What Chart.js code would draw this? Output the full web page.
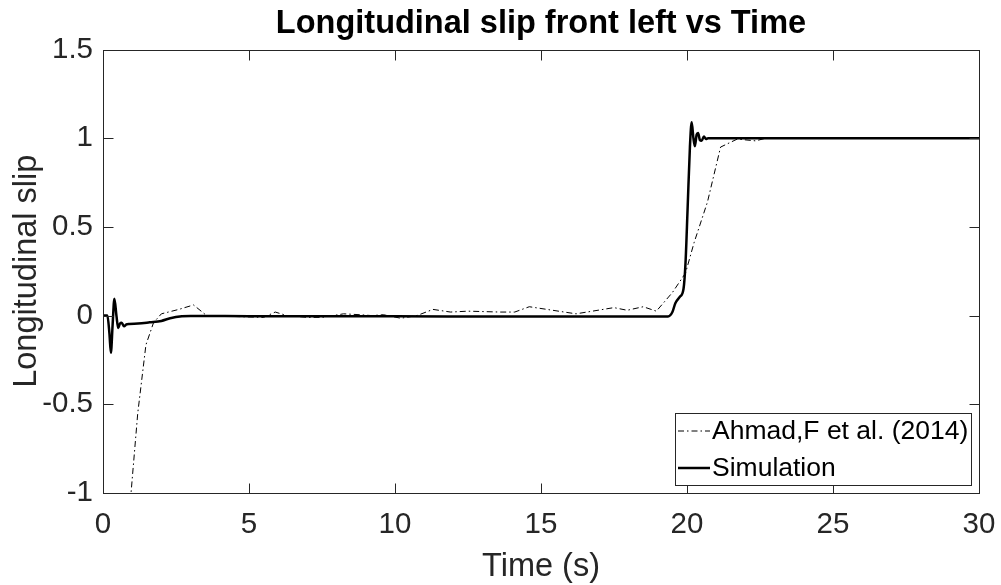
<!DOCTYPE html>
<html>
<head>
<meta charset="utf-8">
<script src="https://cdn.jsdelivr.net/npm/chart.js@4.4.1/dist/chart.umd.min.js"></script>
<style>
  html, body { margin: 0; padding: 0; background: #fff; }
  #wrap { width: 1001px; height: 585px; position: relative; }
</style>
</head>
<body>
<div id="wrap"><canvas id="main-chart" width="1001" height="585"></canvas></div>
<script>
// simulation trace (time s, slip)
const simT = [0, 0.15, 0.22, 0.27, 0.33, 0.39, 0.46, 0.52, 0.58, 0.64, 0.72, 0.8, 0.9, 1.2, 1.6, 2.0, 2.3, 2.7, 3.0, 5, 10, 15, 19.35,
  19.5, 19.6, 19.75, 19.88, 19.95, 20.02, 20.1, 20.16, 20.22, 20.27, 20.33, 20.38, 20.44, 20.5, 20.58, 20.65, 20.72, 30];
const simY = [0, 0, -0.1, -0.21, -0.05, 0.095, 0.0, -0.07, -0.045, -0.04, -0.06, -0.05, -0.047, -0.045, -0.038, -0.03, -0.015, -0.004, -0.002, -0.003, -0.004, -0.005, -0.005,
  0.02, 0.07, 0.105, 0.15, 0.3, 0.6, 0.95, 1.09, 1.0, 0.955, 1.02, 1.03, 0.99, 0.985, 1.01, 0.995, 1.0, 1.0];

// Ahmad,F et al. (2014) reference trace
const refT = [0.9, 0.96, 1.19, 1.47, 1.73, 2.0, 2.6, 3.1, 3.55, 4.5, 5.5, 5.9, 6.3, 7.0, 7.5, 8.24, 8.8, 9.2, 9.6, 10.2, 10.75,
  11.3, 11.9, 12.5, 13.6, 14.1, 14.6, 15.2, 16.2, 17.5, 17.95, 18.5, 18.95, 19.5, 19.95, 20.24, 20.7, 21.15, 21.72, 22.35, 22.7, 30];
const refY = [-1.12, -1.0, -0.55, -0.165, -0.04, 0.01, 0.035, 0.06, 0.0, -0.005, -0.01, 0.02, 0.0, -0.01, -0.01, 0.01, 0.005, 0.0, 0.005, -0.015, 0.0,
  0.035, 0.02, 0.025, 0.02, 0.02, 0.05, 0.035, 0.01, 0.045, 0.03, 0.05, 0.025, 0.13, 0.24, 0.41, 0.64, 0.95, 0.995, 0.985, 1.0, 1.0];

const labels = ['Ahmad,F et al. (2014)', 'Simulation'];
const xTicks = [0, 5, 10, 15, 20, 25, 30];
const yTicks = [-1, -0.5, 0, 0.5, 1, 1.5];

const titleText = 'Longitudinal slip front left vs Time';
const xTitle = 'Time (s)';
const yTitle = 'Longitudinal slip';

const INK = '#262626';
const FONT = '"Liberation Sans", Arial, sans-serif';

const frame = {
  id: 'frame',
  afterDatasetsDraw(c) {
    const { ctx, chartArea: a, scales } = c;
    const L = Math.round(a.left) + 0.5, R = Math.round(a.right) + 0.5;
    const T = Math.round(a.top) + 0.5, B = Math.round(a.bottom) + 0.5;
    ctx.save();
    ctx.strokeStyle = INK;
    ctx.lineWidth = 1;
    ctx.strokeRect(L, T, R - L, B - T);
    const tl = 10;
    ctx.beginPath();
    xTicks.forEach(v => {
      const x = Math.round(scales.x.getPixelForValue(v)) + 0.5;
      ctx.moveTo(x, B); ctx.lineTo(x, B - tl);
      ctx.moveTo(x, T); ctx.lineTo(x, T + tl);
    });
    yTicks.forEach(v => {
      const y = Math.round(scales.y.getPixelForValue(v)) + 0.5;
      ctx.moveTo(L, y); ctx.lineTo(L + tl, y);
      ctx.moveTo(R, y); ctx.lineTo(R - tl, y);
    });
    ctx.stroke();

    // titles
    ctx.fillStyle = '#000';
    ctx.textAlign = 'center';
    ctx.textBaseline = 'alphabetic';
    ctx.font = `bold 32.5px ${FONT}`;
    ctx.fillText(titleText, (a.left + a.right) / 2, 33);
    ctx.fillStyle = INK;
    ctx.font = `32.5px ${FONT}`;
    ctx.fillText(xTitle, (a.left + a.right) / 2, 576);
    ctx.save();
    ctx.translate(36, (a.top + a.bottom) / 2);
    ctx.rotate(-Math.PI / 2);
    ctx.fillText(yTitle, 0, 0);
    ctx.restore();

    // legend box
    const lx = 675.5, ly = 413.5, lw = 296, lh = 72;
    ctx.fillStyle = '#fff';
    ctx.fillRect(lx, ly, lw, lh);
    ctx.strokeStyle = INK;
    ctx.strokeRect(lx, ly, lw, lh);
    const rows = [431, 468];
    c.data.datasets.forEach((ds, i) => {
      ctx.save();
      ctx.strokeStyle = ds.borderColor;
      ctx.lineWidth = ds.borderWidth;
      ctx.setLineDash(ds.borderDash || []);
      ctx.beginPath();
      ctx.moveTo(678, rows[i]); ctx.lineTo(710, rows[i]);
      ctx.stroke();
      ctx.restore();
      ctx.fillStyle = '#000';
      ctx.textAlign = 'left';
      ctx.textBaseline = 'middle';
      ctx.font = `26.5px ${FONT}`;
      ctx.fillText(ds.label, 712, rows[i] + 1);
    });
    ctx.restore();
  }
};

const chart = new Chart(document.getElementById('main-chart'), {
  type: 'line',
  data: {
    datasets: [
      {
        label: labels[0],
        data: refT.map((x, j) => ({ x, y: refY[j] })),
        borderColor: '#000',
        backgroundColor: 'transparent',
        borderWidth: 1,
        borderDash: [6, 3, 1.5, 3],
        pointRadius: 0,
        tension: 0,
        clip: 0,
      },
      {
        label: labels[1],
        data: simT.map((x, j) => ({ x, y: simY[j] })),
        borderColor: '#000',
        backgroundColor: 'transparent',
        borderWidth: 2.5,
        pointRadius: 0,
        cubicInterpolationMode: 'monotone',
        clip: 0,
      }
    ]
  },
  options: {
    responsive: false, animation: false,
    layout: { padding: { top: 49.5, right: 22, left: 0, bottom: 0 } },
    plugins: { legend: { display: false }, title: { display: false }, tooltip: { enabled: false } },
    scales: {
      x: {
        type: 'linear', min: 0, max: 30,
        afterFit: s => { s.height = 92; s.paddingLeft = 0; s.paddingRight = 0; },
        afterBuildTicks: s => { s.ticks = xTicks.map(v => ({ value: v })); },
        grid: { display: false, drawTicks: false }, border: { display: false },
        ticks: { color: INK, padding: 14, maxRotation: 0, font: { family: FONT, size: 29.5 }, callback: v => String(v) }
      },
      y: {
        type: 'linear', min: -1, max: 1.5,
        afterFit: s => { s.width = 103; s.paddingTop = 0; s.paddingBottom = 0; },
        afterBuildTicks: s => { s.ticks = yTicks.map(v => ({ value: v })); },
        grid: { display: false, drawTicks: false }, border: { display: false },
        ticks: { color: INK, padding: 10, font: { family: FONT, size: 29.5 }, callback: v => String(v) }
      }
    }
  },
  plugins: [frame]
});
</script>
</body>
</html>
